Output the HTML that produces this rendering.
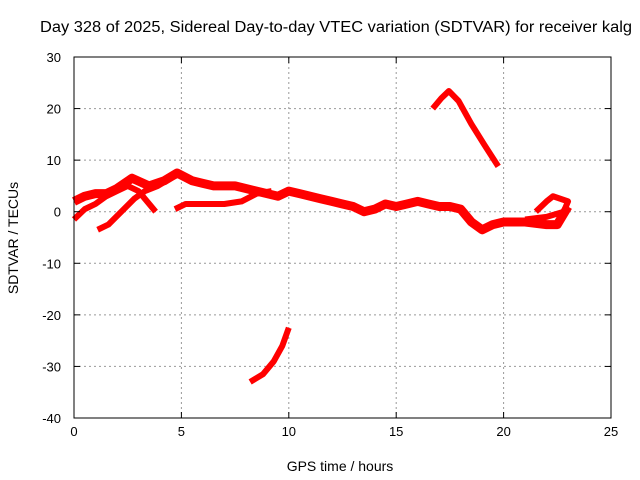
<!DOCTYPE html>
<html><head><meta charset="utf-8"><style>
body{margin:0;background:#fff;}
svg{display:block;font-family:"Liberation Sans",sans-serif;}
</style></head><body>
<svg id="chart" width="640" height="480">
<text x="40" y="32" textLength="592" lengthAdjust="spacingAndGlyphs" font-size="15.5" fill="#000">Day 328 of 2025, Sidereal Day-to-day VTEC variation (SDTVAR) for receiver kalg</text>
<text x="340" y="471" text-anchor="middle" font-size="14" fill="#000">GPS time / hours</text>
<text transform="translate(18,238) rotate(-90)" text-anchor="middle" font-size="14" fill="#000">SDTVAR / TECUs</text>
<g id="grid"></g><g id="series"></g><g id="axes"></g>
</svg>
<script>
const xTicks=[0,5,10,15,20,25];
const yTicks=[30,20,10,0,-10,-20,-30,-40];
const s1x=[0,0.5,1,1.5,2,2.7,3.5,4.2,4.8,5.5,6,6.5,7.5,8.5,9.5,10,10.5,11,11.5,12,12.5,13,13.5,14,14.5,15,15.5,16,16.5,17,17.5,18,18.5,19,19.5,20,21,22,22.5,23];
const s1y=[2,3,3.5,3.5,4.5,6.5,5,6,7.5,6,5.5,5,5,4,3,4,3.5,3,2.5,2,1.5,1,0,0.5,1.5,1,1.5,2,1.5,1,1,0.5,-2,-3.5,-2.5,-2,-2,-2.5,-2.5,1];
const s2x=[1.1,1.6,2.2,2.8,3.3,3.9,4.5,5];
const s2y=[-3.5,-2.5,0,2.5,4,5,6.5,7.5];
const s3x=[4.7,5.2,6,7,7.8,8.5,9.2];
const s3y=[0.5,1.5,1.5,1.5,2,3.5,4];
const s4x=[0,0.5,1,1.5,2,2.5,3,3.5,3.8];
const s4y=[-1.5,0.5,1.5,3,4,5,4,1.5,0];
const s5x=[16.7,17.1,17.45,17.9,18.5,19.1,19.75];
const s5y=[20,22,23.4,21.5,17,13,8.8];
const s6x=[8.2,8.8,9.3,9.7,10];
const s6y=[-33,-31.5,-29,-26,-22.5];
const s7x=[21.5,22,22.3,23,22.8,22,21];
const s7y=[0,2,3,2,0,-1,-1.5];
const X0=74,X1=611,Y0=57,Y1=418;
const xs=v=>X0+(v-0)/25*(X1-X0);
const ys=v=>Y0+(30-v)/70*(Y1-Y0);
const NS="http://www.w3.org/2000/svg";
const grid=document.getElementById('grid'),axes=document.getElementById('axes'),ser=document.getElementById('series');
function mk(t,a,p){const e=document.createElementNS(NS,t);for(const k in a)e.setAttribute(k,a[k]);p.appendChild(e);return e;}
xTicks.forEach(v=>{
 if(v>0&&v<25){const g=mk('line',{x1:xs(v),x2:xs(v),y1:Y0,y2:Y1,stroke:'#999','stroke-dasharray':'2,3'},grid);
 
 }
 const t=mk('text',{x:xs(v),y:Y1+18,'text-anchor':'middle','font-size':13},axes);t.textContent=v;
 
 
 mk('line',{x1:xs(v),x2:xs(v),y1:Y1,y2:Y1-6,stroke:'#000'},axes);
 mk('line',{x1:xs(v),x2:xs(v),y1:Y0,y2:Y0+6,stroke:'#000'},axes);
});
yTicks.forEach(v=>{
 if(v<30&&v>-40){const g=mk('line',{x1:X0,x2:X1,y1:ys(v),y2:ys(v),stroke:'#999','stroke-dasharray':'2,3'},grid);
 
 }
 const t=mk('text',{x:X0-13,y:ys(v)+5,'text-anchor':'end','font-size':13},axes);t.textContent=v;
 
 
 mk('line',{x1:X0,x2:X0+6,y1:ys(v),y2:ys(v),stroke:'#000'},axes);
 mk('line',{x1:X1,x2:X1-6,y1:ys(v),y2:ys(v),stroke:'#000'},axes);
});
const fr=mk('rect',{x:X0,y:Y0,width:X1-X0,height:Y1-Y0,fill:'none',stroke:'#000'},axes);


const all=[[s1x,s1y,9],[s2x,s2y,6],[s3x,s3y,6],[s4x,s4y,6],[s5x,s5y,6],[s6x,s6y,6],[s7x,s7y,6]];
all.forEach((s,i)=>{
 const pts=s[0].map((x,j)=>xs(x)+','+ys(s[1][j])).join(' ');
 const p=mk('polyline',{points:pts,fill:'none',stroke:'#f00','stroke-width':s[2],'stroke-linejoin':'round'},ser);
 
 
});
</script>
</body></html>
